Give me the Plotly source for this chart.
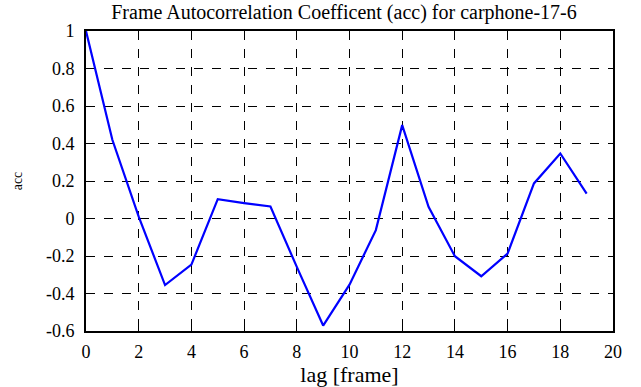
import plotly.graph_objects as go

lags = list(range(20))
acc = [1.0, 0.42, 0.01, -0.355, -0.246, 0.103, 0.082, 0.064, -0.258, -0.571,
       -0.353, -0.062, 0.498, 0.062, -0.201, -0.308, -0.187, 0.187, 0.347, 0.133]

x_ticks = list(range(0, 21, 2))
y_ticks = [-0.6, -0.4, -0.2, 0, 0.2, 0.4, 0.6, 0.8, 1]
y_ticktext = ["-0.6", "-0.4", "-0.2", "0", "0.2", "0.4", "0.6", "0.8", "1"]

font = "Liberation Serif"

fig = go.Figure()
fig.add_trace(go.Scatter(x=lags, y=acc, mode="lines",
                         line=dict(color="#0000FF", width=2.2), showlegend=False))

fig.update_layout(
    width=641, height=387,
    margin=dict(l=86, r=28, t=31, b=56),
    paper_bgcolor="white", plot_bgcolor="white",
    font=dict(family=font, size=18, color="black"),
    title=dict(text="Frame Autocorrelation Coefficent (acc) for carphone-17-6",
               x=344 / 641, xanchor="center", xref="container",
               y=1 - 12 / 387, yanchor="middle", yref="container",
               font=dict(family=font, size=20, color="black")),
    xaxis=dict(range=[0, 20], tickvals=x_ticks, showline=True, linecolor="black",
               linewidth=2, mirror="ticks", ticks="inside", ticklen=5, tickcolor="black",
               showgrid=True, gridcolor="black", griddash="dash", gridwidth=1,
               zeroline=False, ticklabelstandoff=3, automargin=False,
               title=dict(text="lag [frame]", standoff=4, font=dict(family=font, size=22)),
               tickfont=dict(family=font, size=18)),
    yaxis=dict(range=[-0.6, 1], tickvals=y_ticks, ticktext=y_ticktext, showline=True,
               linecolor="black", linewidth=2, mirror="ticks", ticks="inside", ticklen=5,
               tickcolor="black", showgrid=True, gridcolor="black", griddash="dash",
               gridwidth=1, zeroline=False, ticklabelstandoff=6, automargin=False,
               title=dict(text="acc", standoff=20, font=dict(family=font, size=14)),
               tickfont=dict(family=font, size=18)),
)

fig.write_html("out.html", config={"displayModeBar": False},
               post_script="document.body.style.margin='0';")
